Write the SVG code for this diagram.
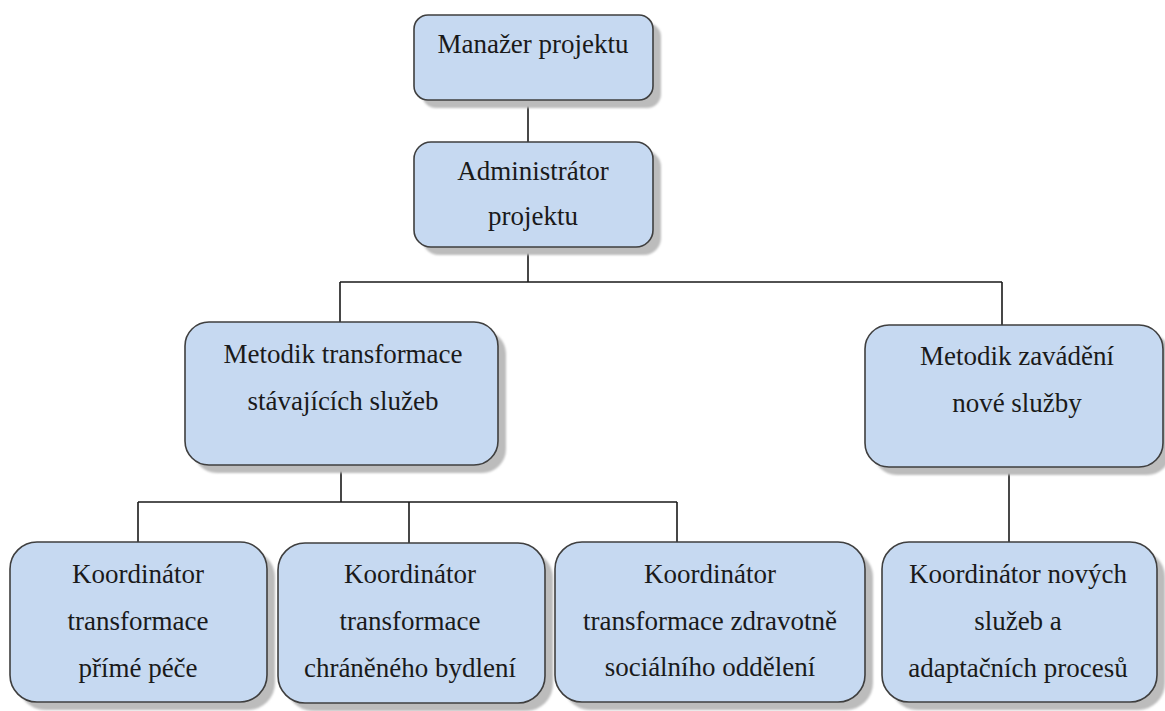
<svg xmlns="http://www.w3.org/2000/svg" width="1165" height="711" viewBox="0 0 1165 711">
<defs>
<filter id="sh" x="-10%" y="-10%" width="130%" height="130%"><feGaussianBlur stdDeviation="1.2"/></filter>
<style>
.box{fill:#c6d9f1;stroke:#3f3f3f;stroke-width:1.6}
.shadow{fill:#bcbcbc;filter:url(#sh)}
.t{font-family:'Liberation Serif','DejaVu Serif',serif;font-size:27px;fill:#1a1a1a;text-anchor:middle}
.c{fill:none;stroke:#1a1a1a;stroke-width:1.6}
</style>
</defs>
<rect width="1165" height="711" fill="#ffffff"/>
<g id="connectors">
<path class="c" d="M528 100V142"/>
<path class="c" d="M528 247V282M340 282H1002M340 282V322M1002 282V325"/>
<path class="c" d="M341 465V502M138 502H677M138 502V542M409 502V543M677 502V542"/>
<path class="c" d="M1009 467V542"/>
</g>
<g id="n1">
<rect class="shadow" x="422" y="23" width="239" height="85" rx="14"/>
<rect class="box" x="414" y="15" width="239" height="85" rx="14"/>
<text class="t" font-family="Liberation Serif" x="533" y="53">Manažer projektu</text>
</g>
<g id="n2">
<rect class="shadow" x="422" y="150" width="239" height="105" rx="17"/>
<rect class="box" x="414" y="142" width="239" height="105" rx="17"/>
<text class="t" font-family="Liberation Serif" x="533" y="180">Administrátor</text>
<text class="t" font-family="Liberation Serif" x="533" y="225">projektu</text>
</g>
<g id="n3">
<rect class="shadow" x="193" y="330" width="313" height="143" rx="24"/>
<rect class="box" x="185" y="322" width="313" height="143" rx="24"/>
<text class="t" font-family="Liberation Serif" x="343" y="363">Metodik transformace</text>
<text class="t" font-family="Liberation Serif" x="343" y="410">stávajících služeb</text>
</g>
<g id="n4">
<rect class="shadow" x="873" y="333" width="298" height="142" rx="24"/>
<rect class="box" x="865" y="325" width="298" height="142" rx="24"/>
<text class="t" font-family="Liberation Serif" x="1017" y="365">Metodik zavádění</text>
<text class="t" font-family="Liberation Serif" x="1017" y="412">nové služby</text>
</g>
<g id="n5">
<rect class="shadow" x="18" y="550" width="257" height="160" rx="27"/>
<rect class="box" x="10" y="542" width="257" height="160" rx="27"/>
<text class="t" font-family="Liberation Serif" x="138" y="583">Koordinátor</text>
<text class="t" font-family="Liberation Serif" x="138" y="630">transformace</text>
<text class="t" font-family="Liberation Serif" x="138" y="677">přímé péče</text>
</g>
<g id="n6">
<rect class="shadow" x="286" y="551" width="267" height="160" rx="27"/>
<rect class="box" x="278" y="543" width="267" height="160" rx="27"/>
<text class="t" font-family="Liberation Serif" x="410" y="583">Koordinátor</text>
<text class="t" font-family="Liberation Serif" x="410" y="630">transformace</text>
<text class="t" font-family="Liberation Serif" x="410" y="677">chráněného bydlení</text>
</g>
<g id="n7">
<rect class="shadow" x="563" y="550" width="310" height="160" rx="27"/>
<rect class="box" x="555" y="542" width="310" height="160" rx="27"/>
<text class="t" font-family="Liberation Serif" x="710" y="583">Koordinátor</text>
<text class="t" font-family="Liberation Serif" x="710" y="630">transformace zdravotně</text>
<text class="t" font-family="Liberation Serif" x="710" y="676">sociálního oddělení</text>
</g>
<g id="n8">
<rect class="shadow" x="890" y="550" width="275" height="160" rx="27"/>
<rect class="box" x="882" y="542" width="275" height="160" rx="27"/>
<text class="t" font-family="Liberation Serif" x="1018" y="583">Koordinátor nových</text>
<text class="t" font-family="Liberation Serif" x="1018" y="630">služeb a</text>
<text class="t" font-family="Liberation Serif" x="1018" y="677">adaptačních procesů</text>
</g>
</svg>
